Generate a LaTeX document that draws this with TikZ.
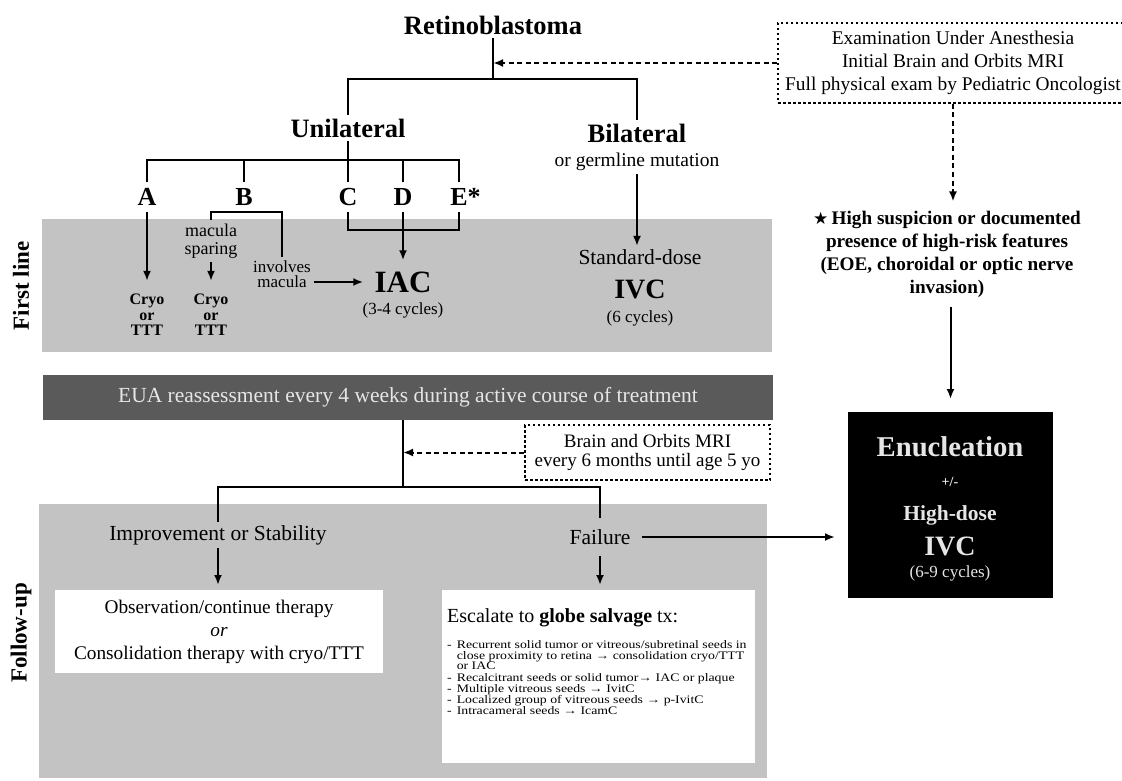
\documentclass[tikz,border=0pt]{standalone}
\usepackage{fontspec}
\setmainfont{Liberation Serif}
\newfontfamily\symfont{DejaVu Sans}
\newfontfamily\widefont[FakeStretch=1.2]{Liberation Serif}
\definecolor{bandgray}{HTML}{C3C3C3}
\definecolor{euagray}{HTML}{5A5A5A}
\definecolor{paletext}{HTML}{E6E6E6}
\usetikzlibrary{arrows.meta,positioning,calc}
\newcommand\fsz[2]{\fontsize{#1}{#2}\selectfont}

\begin{document}
\begin{tikzpicture}[x=1pt,y=-1pt,>={Latex[length=10pt,width=8pt]},
    ln/.style={line width=2pt},
    arr/.style={ln,->},
    darr/.style={line width=2pt,dash pattern=on 5pt off 3.5pt,->},
    dbox/.style={draw,line width=2pt,dash pattern=on 2.5pt off 2.5pt},
    head/.style={font=\fsz{26.5}{30}\bfseries},
    grade/.style={font=\fsz{26}{28}\bfseries,inner sep=6pt},
    side/.style={rotate=90,font=\fsz{23}{25}\bfseries},
    note/.style={font=\fsz{19.5}{23}},
    mid/.style={font=\fsz{21.5}{24}},
    cyc/.style={font=\fsz{17}{19}},
    cryo/.style={font=\fsz{16}{15.5}\bfseries,align=center,outer sep=10pt},
    big/.style={font=\fsz{31}{33}\bfseries},
    wbox/.style={fill=white,outer sep=5pt},
    enubox/.style={fill=black,minimum width=205pt,minimum height=186pt,outer sep=13pt},
    enutx/.style={text=paletext},
    susptext/.style={font=\fsz{19.2}{23}\bfseries,align=center,outer sep=6pt}]
  \useasboundingbox (0,0) rectangle (1122,781);
  \fill[bandgray] (42,219) rectangle (772,352);
  \fill[bandgray] (39,504) rectangle (767,778);
  \node[side] (first) at (21,286) {First line};
  \node[side] (follow) at (21,633) {Follow-up};

  \node[head] (retino) at (493,25) {Retinoblastoma};
  \coordinate (j0) at (493,79);
  \node[head] (uni) at (348,128) {Unilateral};
  \node[head] (bi) at (637,133) {Bilateral};
  \node[note] (bisub) at (637,162) {or germline mutation};
  \draw[ln] (retino.south) -- (j0);
  \draw[ln] (uni.north) |- (j0) -| (bi.north);

  \node[grade] (ga) at (147,197) {A};
  \node[grade] (gb) at (244,197) {B};
  \node[grade] (gc) at (348,197) {C};
  \node[grade] (gd) at (403,197) {D};
  \node[grade] (ge) at (459,197) {E\rlap{*}};
  \coordinate (j1) at (348,160);
  \draw[ln] (uni.south) -- (j1);
  \draw[ln] (ga.north) |- (j1) -| (ge.north);
  \foreach \gr in {gb,gc,gd} \draw[ln] (\gr.north) -- (\gr.north |- j1);

  \node[font=\fsz{18}{18},align=center] (msp) at (211,241) {macula\\sparing};
  \node[font=\fsz{17}{15},align=center] (inv) at (282,274) {involves\\macula};
  \draw[ln] (msp.north) |- (gb.south) -| (inv.north);
  \node[cryo] (cra) at (147,315) {Cryo\\or\\TTT};
  \node[cryo] (crb) at (211,315) {Cryo\\or\\TTT};
  \draw[arr] (ga.south) -- (cra.north);
  \draw[arr] (msp.south) -- (crb.north);

  \node[big,outer sep=8pt] (iac) at (403,282) {IAC};
  \node[cyc] (iaccyc) at (403,310) {(3-4 cycles)};
  \coordinate (j3) at (403,230);
  \draw[ln] (gc.south) |- (j3) -| (ge.south);
  \draw[arr] (gd.south) -- (iac.north);
  \draw[arr] (inv.east |- iac.west) -- (iac.west);

  \node[mid] (std) at (640,257) {Standard-dose};
  \node[font=\fsz{28}{30}\bfseries] (ivc) at (640,289) {IVC};
  \node[cyc] (ivccyc) at (640,318) {(6 cycles)};
  \draw[arr] (bisub.south) -- (bisub.south |- std.north);

  \node[dbox,align=center,font=\fsz{19.4}{23},minimum width=350pt,minimum height=80pt] (exam) at (953,63)
    {Examination Under Anesthesia\\Initial Brain and Orbits MRI\\Full physical exam by Pediatric Oncologist};
  \draw[darr] (exam.west) -- (exam.west -| j0);
  \node[susptext] (susp) at (947,254)
    {{\symfont\fsz{17}{17}★}\,High suspicion or documented\\presence of high-risk features\\(EOE, choroidal or optic nerve\\invasion)};
  \draw[darr] (exam.south) -- (exam.south |- susp.north);

  \node[enubox] (enu) at (950.5,505) {};
  \node[enutx,font=\fsz{28.7}{30}\bfseries] (enuname) at (950,447) {Enucleation};
  \node[enutx,font=\fsz{14}{16}\bfseries] (enupm) at (950,482) {+/-};
  \node[enutx,font=\fsz{21.5}{24}\bfseries] (enuhd) at (950,515) {High-dose};
  \node[enutx,font=\fsz{28}{30}\bfseries] (enuivc) at (950,546) {IVC};
  \node[enutx,font=\fsz{17}{19}] (enucyc) at (950,573) {(6-9 cycles)};
  \draw[arr] (enu.north |- susp.south) -- (enu.north);

  \node[fill=euagray,text=paletext,minimum width=730pt,minimum height=45pt,font=\fsz{21.5}{23}] (eua) at (408,397.5)
    {EUA reassessment every 4 weeks during active course of treatment};
  \coordinate (j2) at (403,487);
  \draw[ln] (eua.south -| j2) -- (j2);
  \node[dbox,align=center,font=\fsz{19}{19},minimum width=245pt,minimum height=55pt] (mri) at (647.5,452.5)
    {Brain and Orbits MRI\\every 6 months until age 5 yo};
  \draw[darr] (mri.west) -- (mri.west -| j2);

  \node[mid] (imp) at (218,535) {Improvement or Stability};
  \node[mid,outer sep=8pt] (fail) at (600,537) {Failure};
  \draw[ln] (imp.north) |- (j2) -| (fail.north);
  \draw[arr] (fail.east) -- (fail.east -| enu.west);

  \node[wbox,align=center,font=\fsz{19.3}{23},minimum width=328pt,minimum height=83pt] (obs) at (219,631.5)
    {Observation/continue therapy\\\textit{or}\\Consolidation therapy with cryo/TTT};
  \draw[arr] (imp.south) -- (imp.south |- obs.north);
  \node[wbox,minimum width=313pt,minimum height=173pt] (esc) at (598.5,676.5) {};
  \draw[arr] (fail.south) -- (fail.south |- esc.north);
  \node[anchor=north west,align=left,inner sep=0pt,font=\fsz{20}{22}] (esctx) at ($(esc.north west)+(10,23)$)
    {Escalate to \textbf{globe salvage} tx:\\[4pt]
     {\widefont\fsz{11.5}{10.5}\begin{tabular}[t]{@{}l@{\hspace{5pt}}l@{}}
      -&Recurrent solid tumor or vitreous/subretinal seeds in\\
       &close proximity to retina → consolidation cryo/TTT\\
       &or IAC\\
      -&Recalcitrant seeds or solid tumor→ IAC or plaque\\
      -&Multiple vitreous seeds → IvitC\\
      -&Localized group of vitreous seeds → p-IvitC\\
      -&Intracameral seeds → IcamC
     \end{tabular}}};
\end{tikzpicture}
\end{document}
